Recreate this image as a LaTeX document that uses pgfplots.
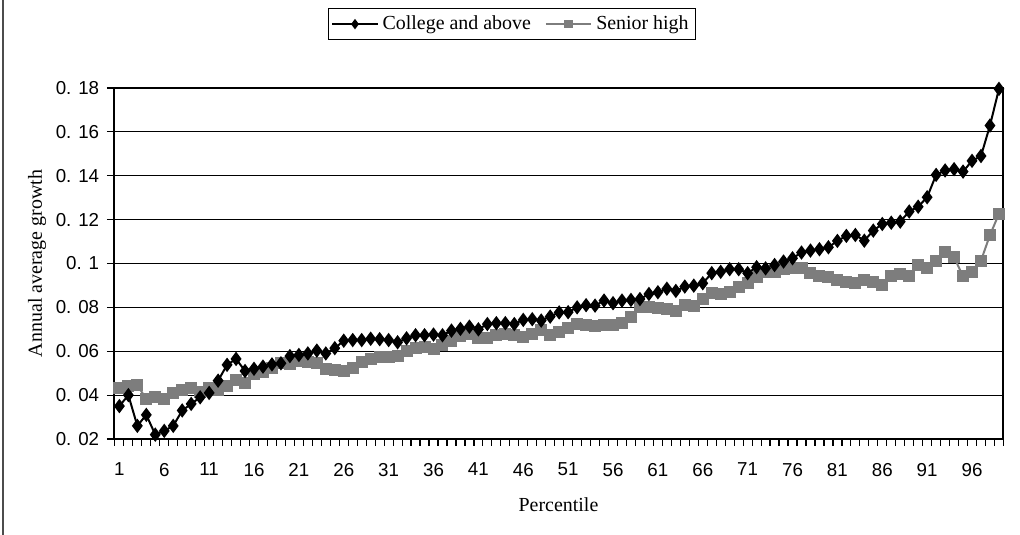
\documentclass[border=0pt]{standalone}
\usepackage{fontspec}
\setmainfont{Liberation Serif}
\newfontfamily\tickfont{Liberation Sans}
\usepackage{pgfplots}
\usepackage{pgfplotstable}
\pgfplotsset{compat=1.18}
\definecolor{sgray}{RGB}{125,125,125}

\pgfplotstableread{
x college senior
1 0.0350 0.0431
2 0.0400 0.0442
3 0.0260 0.0446
4 0.0310 0.0382
5 0.0220 0.0392
6 0.0237 0.0382
7 0.0260 0.0408
8 0.0330 0.0423
9 0.0360 0.0434
10 0.0390 0.0416
11 0.0410 0.0431
12 0.0466 0.0423
13 0.0538 0.0442
14 0.0565 0.0470
15 0.0510 0.0457
16 0.0520 0.0496
17 0.0530 0.0507
18 0.0540 0.0522
19 0.0545 0.0545
20 0.0578 0.0542
21 0.0583 0.0556
22 0.0590 0.0553
23 0.0603 0.0545
24 0.0590 0.0519
25 0.0614 0.0516
26 0.0648 0.0511
27 0.0651 0.0522
28 0.0651 0.0553
29 0.0657 0.0563
30 0.0655 0.0572
31 0.0651 0.0575
32 0.0641 0.0578
33 0.0659 0.0603
34 0.0673 0.0616
35 0.0673 0.0621
36 0.0676 0.0609
37 0.0673 0.0629
38 0.0694 0.0648
39 0.0702 0.0670
40 0.0712 0.0679
41 0.0700 0.0659
42 0.0724 0.0659
43 0.0728 0.0674
44 0.0728 0.0679
45 0.0724 0.0673
46 0.0743 0.0664
47 0.0746 0.0679
48 0.0740 0.0697
49 0.0758 0.0672
50 0.0777 0.0689
51 0.0778 0.0705
52 0.0800 0.0724
53 0.0810 0.0720
54 0.0808 0.0717
55 0.0831 0.0720
56 0.0819 0.0720
57 0.0831 0.0731
58 0.0834 0.0758
59 0.0838 0.0803
60 0.0861 0.0801
61 0.0869 0.0799
62 0.0885 0.0793
63 0.0875 0.0785
64 0.0895 0.0811
65 0.0899 0.0806
66 0.0910 0.0837
67 0.0956 0.0867
68 0.0962 0.0861
69 0.0974 0.0870
70 0.0974 0.0892
71 0.0956 0.0913
72 0.0983 0.0940
73 0.0978 0.0963
74 0.0993 0.0961
75 0.1009 0.0974
76 0.1024 0.0978
77 0.1050 0.0978
78 0.1059 0.0956
79 0.1065 0.0941
80 0.1074 0.0938
81 0.1103 0.0925
82 0.1126 0.0915
83 0.1130 0.0913
84 0.1104 0.0925
85 0.1150 0.0917
86 0.1180 0.0902
87 0.1186 0.0941
88 0.1191 0.0952
89 0.1237 0.0941
90 0.1259 0.0993
91 0.1302 0.0978
92 0.1404 0.1013
93 0.1424 0.1054
94 0.1430 0.1029
95 0.1419 0.0941
96 0.1468 0.0959
97 0.1490 0.1013
98 0.1629 0.1130
99 0.1796 0.1226
}\datatable

\begin{document}
\begin{tikzpicture}
\path[use as bounding box] (-57bp,-48bp) rectangle (453bp,219.5bp);
\draw[black!70, line width=0.8bp] (-55.5bp,-48bp) -- (-55.5bp,219.5bp);
\begin{axis}[
  at={(0,0)}, anchor=south west,
  scale only axis,
  width=444.5bp, height=175.5bp,
  xmin=0.4, xmax=99.45,
  ymin=0.02, ymax=0.18,
  axis line style={line width=1bp},
  xtick pos=left, ytick pos=left,
  major tick length=0pt,
  xtick={1,6,11,16,21,26,31,36,41,46,51,56,61,66,71,76,81,86,91,96},
  xticklabels={1,6,11,16,21,26,31,36,41,46,51,56,61,66,71,76,81,86,91,96},
  ytick={0.02,0.04,0.06,0.08,0.1,0.12,0.14,0.16,0.18},
  yticklabels={0. 02,0. 04,0. 06,0. 08,0. 1,0. 12,0. 14,0. 16,0. 18},
  ymajorgrids,
  grid style={black, line width=0.5bp},
  tick label style={font=\tickfont\fontsize{9.4}{11}\selectfont},
  xticklabel style={yshift=-8.5bp},
  yticklabel style={xshift=-3.9bp},
  xlabel={Percentile},
  ylabel={Annual average growth},
  label style={font=\fontsize{10}{12}\selectfont},
  xlabel style={at={(axis description cs:0.5,-0.188)}, anchor=center},
  ylabel style={at={(axis description cs:-0.0866,0.5)}, anchor=center},
  legend columns=2,
  legend style={at={(axis description cs:0.4477,1.182)}, anchor=center,
    draw=black, line width=0.5bp, font=\fontsize{10}{12}\selectfont,
    inner sep=1.5bp,
    /tikz/every even column/.append style={column sep=5bp}},
  legend image code/.code={\draw[mark repeat=2,mark phase=2,#1] plot coordinates {(0cm,0cm) (0.4cm,0cm) (0.8cm,0cm)};},
]
\addlegendimage{black, line width=1bp, mark=diamond*, mark size=1.8bp, mark options={solid}}
\addlegendentry{College and above}
\addlegendimage{sgray, line width=1bp, mark=square*, mark size=1.6bp, mark options={solid}}
\addlegendentry{Senior high}
\addplot[sgray, line width=1bp, mark=square*, mark size=2.5bp, forget plot] table[x=x, y=senior] {\datatable};
\addplot[black, line width=1bp, mark=diamond*, mark size=2.8bp, forget plot] table[x=x, y=college] {\datatable};
\end{axis}
\foreach \k in {0,...,99} {
  \draw[black, line width=0.6bp] ({(\k+0.1)*4.48763bp},0.5bp) -- ({(\k+0.1)*4.48763bp},-3.5bp);
}
\foreach \j in {0,...,8} {
  \draw[black, line width=0.6bp] (-3.5bp,{\j*21.9375bp}) -- (0bp,{\j*21.9375bp});
}
\end{tikzpicture}
\end{document}
